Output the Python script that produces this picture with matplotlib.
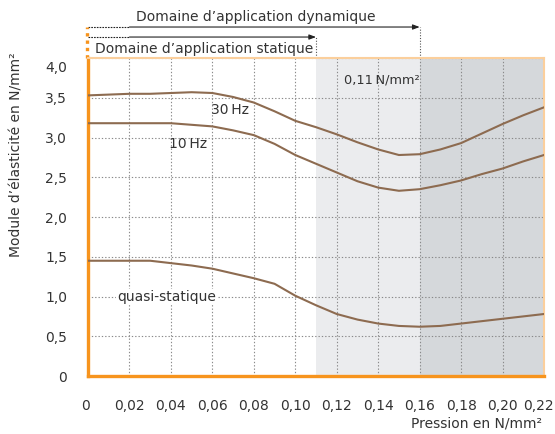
import numpy as np
import matplotlib.pyplot as plt
import matplotlib.transforms as mtransforms

# pressure (N/mm²) and modulus values
pression = [0.00, 0.01, 0.02, 0.03, 0.04, 0.05, 0.06, 0.07, 0.08, 0.09, 0.10, 0.11,
            0.12, 0.13, 0.14, 0.15, 0.16, 0.17, 0.18, 0.19, 0.20, 0.21, 0.22]
module_30hz = [3.53, 3.54, 3.55, 3.55, 3.56, 3.57, 3.56, 3.51, 3.44, 3.33, 3.21, 3.13,
               3.04, 2.94, 2.85, 2.78, 2.79, 2.85, 2.93, 3.05, 3.17, 3.28, 3.38]
module_10hz = [3.18, 3.18, 3.18, 3.18, 3.18, 3.16, 3.14, 3.09, 3.03, 2.92, 2.78, 2.67,
               2.56, 2.45, 2.37, 2.33, 2.35, 2.40, 2.46, 2.54, 2.61, 2.70, 2.78]
module_quasi = [1.45, 1.45, 1.45, 1.45, 1.42, 1.39, 1.35, 1.29, 1.23, 1.16, 1.01, 0.89,
                0.78, 0.71, 0.66, 0.63, 0.62, 0.63, 0.66, 0.69, 0.72, 0.75, 0.78]

xticks = [0, 0.02, 0.04, 0.06, 0.08, 0.10, 0.12, 0.14, 0.16, 0.18, 0.20, 0.22]
xlabels = ["0", "0,02", "0,04", "0,06", "0,08", "0,10", "0,12", "0,14", "0,16", "0,18", "0,20", "0,22"]
yticks = [0, 0.5, 1.0, 1.5, 2.0, 2.5, 3.0, 3.5, 4.0]
ylabels = ["0", "0,5", "1,0", "1,5", "2,0", "2,5", "3,0", "3,5", "4,0"]

limite_statique = 0.11
limite_dynamique = 0.16

orange = "#f7941d"
orange_clair = "#fbcf9c"
brun = "#8d6b50"
texte = "#333333"

plt.rcParams['font.family'] = ['DejaVu Sans']

fig = plt.figure(figsize=(5.55, 4.34), dpi=100)
ax = fig.add_axes([0.1586, 0.1336, 0.8216, 0.7327])

ax.set_xlim(0, 0.22)
ax.set_ylim(0, 4.0)

# shaded zones
ax.axvspan(limite_statique, limite_dynamique, color="#ebecee", lw=0, zorder=0)
ax.axvspan(limite_dynamique, 0.22, color="#d5d8db", lw=0, zorder=0)

ax.set_xticks(xticks)
ax.set_xticklabels(xlabels)
ax.set_yticks(yticks)
ax.set_yticklabels(ylabels)
ax.tick_params(length=0, labelsize=10, labelcolor=texte)
ax.tick_params(axis="x", pad=16.5)
ax.tick_params(axis="y", pad=15)

# nudge a couple of tick labels like in the original
off = mtransforms.ScaledTranslation(0, -8 / 100, fig.dpi_scale_trans)
lab = ax.get_yticklabels()[-1]
lab.set_transform(lab.get_transform() + off)
off_x = mtransforms.ScaledTranslation(-6 / 100, 0, fig.dpi_scale_trans)
labx = ax.get_xticklabels()[-1]
labx.set_transform(labx.get_transform() + off_x)
off_x0 = mtransforms.ScaledTranslation(-3 / 100, 0, fig.dpi_scale_trans)
labx0 = ax.get_xticklabels()[0]
labx0.set_transform(labx0.get_transform() + off_x0)

ax.grid(True, color="#8a8a8a", linestyle=(0, (1.2, 1.8)), linewidth=0.8, zorder=1)
ax.set_axisbelow(True)

for s in ["left", "bottom"]:
    ax.spines[s].set_color(orange)
    ax.spines[s].set_linewidth(2.4)
for s in ["top", "right"]:
    ax.spines[s].set_color(orange_clair)
    ax.spines[s].set_linewidth(1.5)

ax.plot(pression, module_30hz, color=brun, lw=1.5, zorder=3)
ax.plot(pression, module_10hz, color=brun, lw=1.5, zorder=3)
ax.plot(pression, module_quasi, color=brun, lw=1.5, zorder=3)

ax.text(0.0595, 3.34, "30\u2009Hz", fontsize=10, color=texte, va="center", ha="left")
ax.text(0.0390, 2.92, "10\u2009Hz", fontsize=10, color=texte, va="center", ha="left")
ax.text(0.0140, 1.0, "quasi-statique", fontsize=10, color=texte, va="center", ha="left",
        bbox=dict(facecolor="white", edgecolor="none", pad=0.5))
ax.text(0.1235, 3.72, "0,11\u2009N/mm\u00b2", fontsize=9.3, color=texte, va="center", ha="left")

ax.set_ylabel("Module d\u2019\u00e9lasticit\u00e9 en N/mm\u00b2", fontsize=10, color=texte)
ax.yaxis.set_label_coords(-0.156, 1.019)
ax.yaxis.label.set_ha("right")
ax.yaxis.label.set_va("center")
ax.set_xlabel("Pression en N/mm\u00b2", fontsize=10, color=texte)
ax.xaxis.set_label_coords(0.995, -0.126)
ax.xaxis.label.set_ha("right")
ax.xaxis.label.set_va("top")

# domain arrows above the plot
tr = mtransforms.blended_transform_factory(ax.transData, ax.transAxes)
y_dyn = 1.0975
y_stat = 1.066
for yy, xend in [(y_dyn, limite_dynamique), (y_stat, limite_statique)]:
    ax.plot([0, 0.02], [yy, yy], transform=tr, color="#222222", lw=0.8,
            linestyle=(0, (1.5, 1)), clip_on=False)
    ax.annotate("", xy=(xend, yy), xytext=(0.02, yy), xycoords=tr, textcoords=tr,
                arrowprops=dict(arrowstyle="-|>,head_length=0.4,head_width=0.15",
                                color="#222222", lw=0.8, shrinkA=0, shrinkB=0))
    ax.plot([xend, xend], [1.0, yy], transform=tr, color="#555555", lw=0.8,
            linestyle=(0, (1, 1.5)), clip_on=False)

ax.plot([-0.0005, -0.0005], [1.0, y_dyn], transform=tr, color=orange, lw=2.4,
        linestyle=(0, (1, 1.2)), clip_on=False)

ax.text(0.0035, 1.029, "Domaine d\u2019application statique", transform=tr, fontsize=10,
        color=texte, va="center", ha="left")
ax.text(0.081, 1.13, "Domaine d\u2019application dynamique", transform=tr, fontsize=10,
        color=texte, va="center", ha="center")

fig.savefig("out.png", dpi=100)
